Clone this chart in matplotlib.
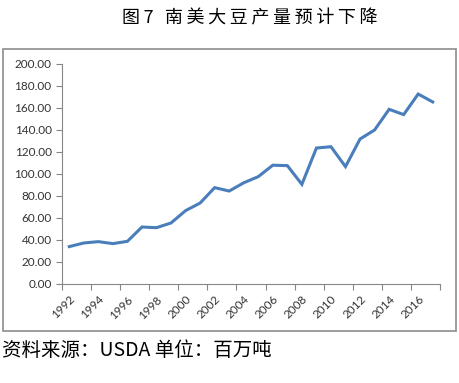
import matplotlib.pyplot as plt
import numpy as np
from matplotlib.patches import Rectangle

plt.rcParams['font.family'] = ['Lato', 'Noto Sans CJK SC', 'DejaVu Sans']

years = list(range(1992, 2018))
output = [34.0, 37.3, 38.5, 36.7, 38.8, 51.8, 51.2, 55.5, 66.7, 73.6,
          87.6, 84.5, 92.0, 97.6, 108.0, 107.6, 90.6, 123.6, 124.8, 106.7,
          131.8, 140.0, 158.8, 154.0, 172.7, 165.5]
title = '图7 南美大豆产量预计下降'
note = '资料来源：USDA 单位：百万吨'

fig = plt.figure(figsize=(4.6, 3.83), dpi=100)
ax = fig.add_axes([0.1348, 0.2585, 0.8217, 0.5744])

x = np.arange(len(years))
ax.plot(x, output, color='#4a7ebb', lw=2.2, solid_joinstyle='miter')

ax.set_ylim(0, 200)
ax.set_yticks(np.arange(0, 201, 20))
ax.set_yticklabels(['%.2f' % v for v in np.arange(0, 201, 20)], fontsize=8.5, color='#333333')
ax.set_xlim(-0.5, len(years) - 0.5)
ax.set_xticks(np.arange(-0.5, len(years), 2))
ax.set_xticklabels([])
ax.set_xticks(x[::2], minor=True)
ax.set_xticklabels([str(y) for y in years[::2]], minor=True, rotation=45,
                   ha='right', va='top', rotation_mode='anchor', fontsize=8.5, color='#333333')
ax.tick_params(axis='x', which='minor', length=0, pad=7)
ax.tick_params(axis='both', which='major', length=4, color='#868686', width=0.8)
for s in ['top', 'right']:
    ax.spines[s].set_visible(False)
for s in ['left', 'bottom']:
    ax.spines[s].set_color('#868686')
    ax.spines[s].set_linewidth(0.8)

fig.patches.append(Rectangle((0.0076, 0.1358), 0.9837, 0.7362, transform=fig.transFigure,
                             fill=False, edgecolor='#8c8c8c', lw=1.2))

# spread the characters a little, like the wide spacing in the original
thin = '\u2009'
fig.text(0.543, 0.952, thin.join(title), ha='center', va='center', fontsize=13,
         family=['Noto Sans CJK SC', 'DejaVu Sans'])
fig.text(0.004, 0.086, note, ha='left', va='center', fontsize=14,
         family=['Noto Sans CJK SC', 'DejaVu Sans'])

fig.savefig('out.png', dpi=100)
